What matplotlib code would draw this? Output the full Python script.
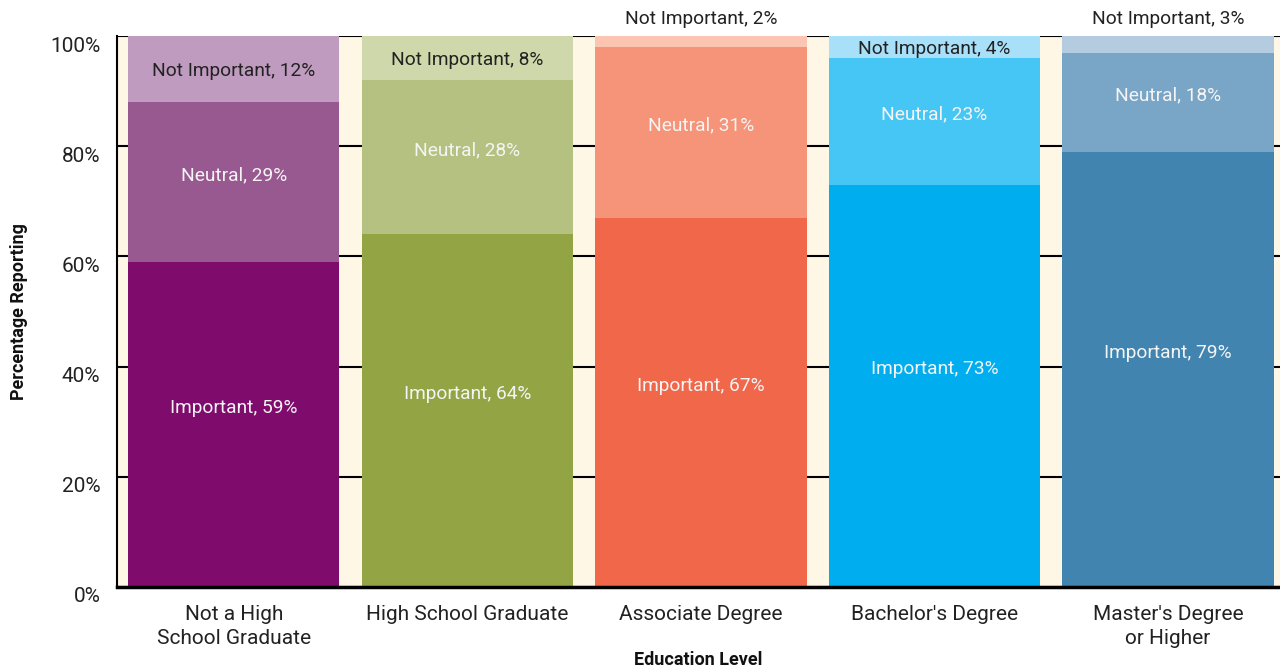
import matplotlib
matplotlib.use("Agg")
import matplotlib.pyplot as plt
import matplotlib.transforms as mtransforms
import numpy as np

categories = ["Not a High\nSchool Graduate", "High School Graduate", "Associate Degree",
              "Bachelor's Degree", "Master's Degree\nor Higher"]
important = [59, 64, 67, 73, 79]
neutral = [29, 28, 31, 23, 18]
not_important = [12, 8, 2, 4, 3]
series_names = ["Important", "Neutral", "Not Important"]
yticks = [0, 20, 40, 60, 80, 100]
ytick_labels = ["0%", "20%", "40%", "60%", "80%", "100%"]

colors = [
    ["#7F0B6C", "#985890", "#C09BC0"],
    ["#93A445", "#B5C180", "#CFD8AA"],
    ["#F0674A", "#F59478", "#FCC5B1"],
    ["#00AEEF", "#45C6F5", "#A8E0FA"],
    ["#4084AF", "#79A5C6", "#B5CBE0"],
]

plt.rcParams['font.family'] = ['Roboto', 'DejaVu Sans']

fig = plt.figure(figsize=(12.8, 6.69), dpi=100)
ax = fig.add_axes([117/1280, 1-587/669, 1-117/1280, (587-36)/669])
ax.set_facecolor("#FEF7E6")

x = np.arange(len(categories))
width = 0.905
series = [important, neutral, not_important]
bottoms = np.zeros(len(categories))
lfs = 13.8
for s_idx, vals in enumerate(series):
    vals = np.array(vals, dtype=float)
    for i in range(len(categories)):
        ax.bar(x[i], vals[i], width, bottom=bottoms[i], color=colors[i][s_idx],
               zorder=3, linewidth=0)
        mid = bottoms[i] + vals[i] / 2
        label = f"{series_names[s_idx]}, {int(vals[i])}%"
        if s_idx == 2:
            if vals[i] < 4:
                ax.text(x[i], 103, label, ha="center", va="center", fontsize=lfs,
                        color="#222222", zorder=5, clip_on=False)
            else:
                ax.text(x[i], mid - 0.3, label, ha="center", va="center", fontsize=lfs,
                        color="#222222", zorder=5)
        else:
            off = 3.0 if s_idx == 0 else 1.2
            ax.text(x[i], mid + off, label, ha="center", va="center", fontsize=lfs,
                    color="#F4F4F4", zorder=5)
    bottoms += vals

ax.set_xlim(-0.5, 4.48)
ax.set_ylim(0, 100)
ax.set_yticks(yticks)
ax.set_yticklabels(ytick_labels, fontsize=15, color="#222222")
ax.set_xticks(x)
ax.set_xticklabels(categories, fontsize=15, color="#222222", linespacing=1.35)
ax.tick_params(axis="both", length=0)
ax.tick_params(axis="y", pad=12)
ax.tick_params(axis="x", pad=13)
offset = mtransforms.ScaledTranslation(0, -8/100, fig.dpi_scale_trans)
for lab in ax.get_yticklabels():
    lab.set_transform(lab.get_transform() + offset)

ax.yaxis.grid(True, color="black", linewidth=1.5, zorder=1)
ax.set_axisbelow(True)
for sp in ["top", "right"]:
    ax.spines[sp].set_visible(False)
ax.spines["left"].set_linewidth(1.5)
ax.spines["bottom"].set_linewidth(2.5)
ax.spines["bottom"].set_zorder(6)

ax.set_xlabel("Education Level", fontsize=13, fontweight="bold", color="#111111",
              labelpad=2)
ax.set_ylabel("Percentage Reporting", fontsize=13, fontweight="bold", color="#111111",
              labelpad=16)

fig.savefig("out.png", dpi=100)
